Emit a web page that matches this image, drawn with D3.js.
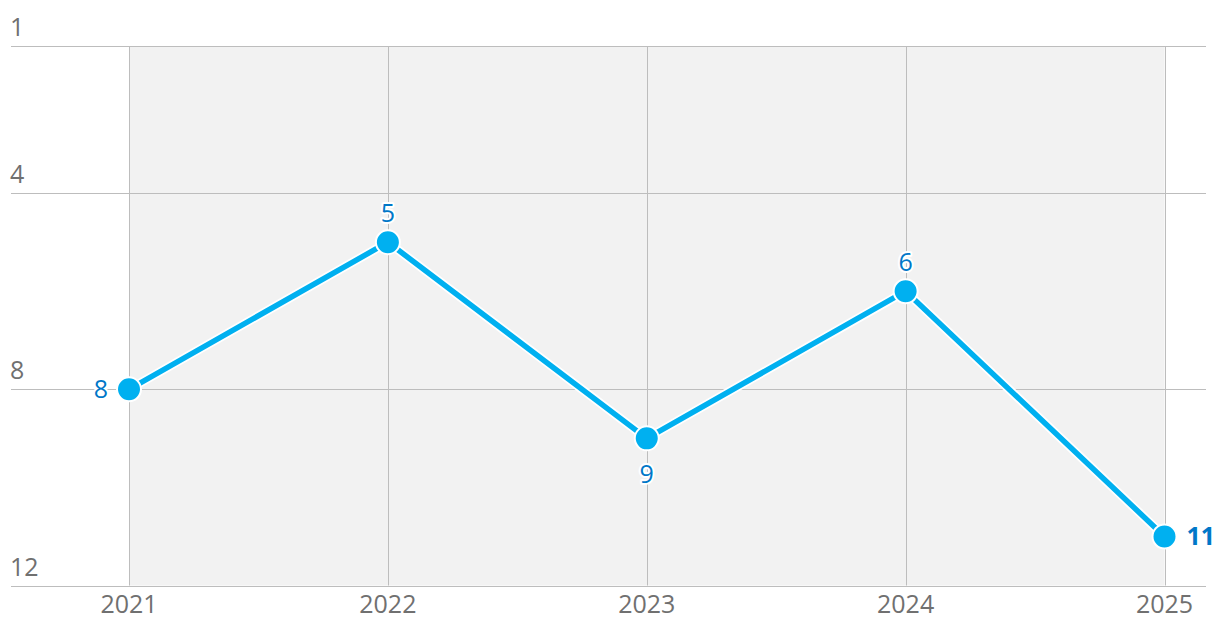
<!DOCTYPE html>
<html><head><meta charset="utf-8">
<script src="https://cdn.jsdelivr.net/npm/d3@7"></script>
<style>body{margin:0;background:#fff;}svg{display:block;font-family:"Open Sans","Noto Sans",sans-serif;}</style>
</head><body>
<svg id="c" width="1220" height="634"></svg>
<script>
const years = ["2021","2022","2023","2024","2025"];
const ranks = [8,5,9,6,11];
const yTicks = [1,4,8,12];
const labelPos = ["left","top","bottom","top","right"];

const svg = d3.select("#c");
const x = d3.scalePoint().domain(years).range([129,1164.5]);
const y = d3.scaleLinear().domain([1,12]).range([46,585.5]);

svg.append("rect").attr("x",x(years[0])).attr("y",y(1)).attr("width",x(years[4])-x(years[0])).attr("height",y(12)-y(1)).attr("fill","#f2f2f2");

// horizontal grid
svg.selectAll(".hg").data(yTicks).join("line")
  .attr("x1",11).attr("x2",1206).attr("y1",d=>Math.round(y(d))+0.5).attr("y2",d=>Math.round(y(d))+0.5)
  .attr("stroke","#bdbdbd").attr("stroke-width",1);
svg.selectAll(".yl").data(yTicks).join("text")
  .attr("x",10).attr("y",d=>y(d)-10).attr("fill","#707070").attr("font-size",25).text(d=>d);

// vertical grid
svg.selectAll(".vg").data(years).join("line")
  .attr("x1",d=>Math.round(x(d))+0.5).attr("x2",d=>Math.round(x(d))+0.5).attr("y1",y(1)).attr("y2",y(12))
  .attr("stroke","#bdbdbd").attr("stroke-width",1);
svg.selectAll(".xl").data(years).join("text")
  .attr("x",d=>x(d)).attr("y",613).attr("text-anchor","middle").attr("fill","#707070").attr("font-size",25).text(d=>d);

const data = years.map((yr,i)=>({yr,r:ranks[i],p:labelPos[i]}));
const line = d3.line().x(d=>x(d.yr)).y(d=>y(d.r));
svg.append("path").datum(data).attr("d",line).attr("fill","none").attr("stroke","#fff").attr("stroke-width",9).attr("stroke-linejoin","round");
svg.append("path").datum(data).attr("d",line).attr("fill","none").attr("stroke","#00b0f0").attr("stroke-width",5.5).attr("stroke-linejoin","round");
svg.selectAll(".pt").data(data).join("circle")
  .attr("cx",d=>x(d.yr)).attr("cy",d=>y(d.r)).attr("r",12).attr("fill","#00b0f0").attr("stroke","#fff").attr("stroke-width",2);

const lbl = svg.selectAll(".lb").data(data).join("text")
  .attr("fill","#0077c8").attr("font-size",25)
  .attr("stroke","#fff").attr("stroke-width",4).attr("paint-order","stroke").attr("stroke-linejoin","round")
  .attr("font-weight",d=>d.p==="right"?"bold":"normal")
  .attr("text-anchor",d=>d.p==="left"?"end":d.p==="right"?"start":"middle")
  .attr("x",d=>x(d.yr)+(d.p==="left"?-21:d.p==="right"?22:0))
  .attr("y",d=>y(d.r)+(d.p==="top"?-20:d.p==="bottom"?45:9))
  .text(d=>d.r);
</script>
</body></html>
